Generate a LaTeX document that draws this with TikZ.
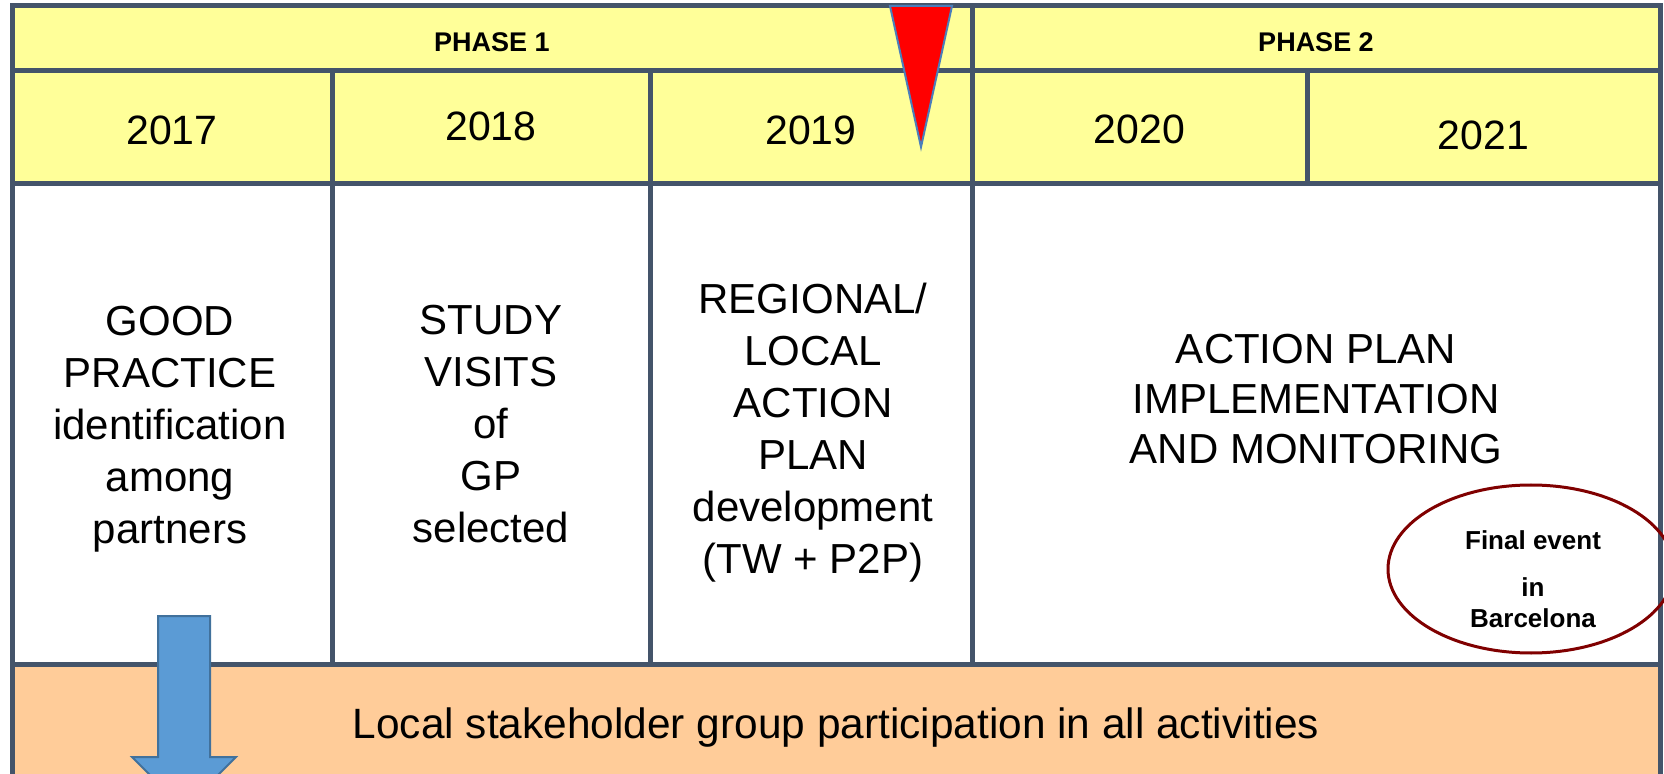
\documentclass[tikz,border=0pt]{standalone}
\usepackage{fontspec}
\setmainfont{Liberation Sans}
\usepackage{tikz}
\usetikzlibrary{shapes}
\usetikzlibrary{shapes.geometric}
\usetikzlibrary{positioning}

\definecolor{hdryellow}{HTML}{FFFF99}
\definecolor{framegray}{HTML}{44546A}
\definecolor{bandorange}{HTML}{FFCC99}
\definecolor{arrowblue}{HTML}{5B9BD5}
\definecolor{arrowedge}{HTML}{41719C}
\definecolor{markred}{HTML}{FF0000}
\definecolor{markedge}{HTML}{4A7EBB}
\definecolor{eventred}{HTML}{800000}

\tikzset{
  frame/.style={draw=framegray, line width=2.5pt},
  phasetxt/.style={font=\fontsize{13.5}{16}\selectfont\bfseries},
  yeartxt/.style={font=\fontsize{20.5}{24}\selectfont},
  bodytxt/.style={align=center, font=\fontsize{21}{26}\selectfont},
}

\begin{document}
\begin{tikzpicture}[x=0.5pt, y=-0.5pt, >=latex]
      \path[use as bounding box] (0, 0) rectangle (1664, 774);
      \clip (0, 0) rectangle (1664, 774);

      % phase headers
      \draw[frame, fill=hdryellow] (12, 6) rectangle (972, 71);
      \draw[frame, fill=hdryellow] (972, 6) rectangle (1660, 71);
      \node[phasetxt] (ph1) at (492, 42) {PHASE 1};
      \node[phasetxt] (ph2) at (1316, 42) {PHASE 2};

      % years
      \foreach \xa/\xb/\yr/\ty in {12/332/2017/130, 332/650/2018/126, 650/972/2019/130, 972/1307/2020/129, 1307/1660/2021/135} {
        \draw[frame, fill=hdryellow] (\xa, 71) rectangle (\xb, 184);
        \node[yeartxt] (yr\yr) at ({(\xa+\xb)/2}, \ty) {\yr};
      }

      % activities
      \foreach \xa/\xb in {12/332, 332/650, 650/972, 972/1660} {
        \draw[frame, fill=white] (\xa, 184) rectangle (\xb, 664);
      }
      \node[bodytxt] (gp) at (170, 429) {GOOD\\PRACTICE\\identification\\among\\partners};
      \node[bodytxt] (visits) at (491, 424) {STUDY\\VISITS\\of\\GP\\selected};
      \node[bodytxt] (lap) at (813, 433) {REGIONAL/\\LOCAL\\ACTION\\PLAN\\development\\(TW + P2P)};
      \node[bodytxt, font=\fontsize{21}{25}\selectfont] (impl) at (1316, 399) {ACTION PLAN\\IMPLEMENTATION\\AND MONITORING};

      % stakeholder band
      \draw[frame, fill=bandorange] (12, 664) rectangle (1660, 790);
      \node[bodytxt, font=\fontsize{21.2}{26}\selectfont] (lsg) at (836, 728) {Local stakeholder group participation in all activities};

      % arrow down
      \draw[fill=arrowblue, draw=arrowedge, line width=1pt]
        (158, 616) -- (210, 616) -- (210, 757) -- (236, 757) -- (184, 809)
        -- (132, 757) -- (158, 757) -- cycle;

      % milestone marker
      \draw[fill=markred, draw=markedge, line width=1pt] (890, 6) -- (952, 6) -- (921, 147) -- cycle;

      % final event
      \node[ellipse, draw=eventred, line width=1.5pt, minimum width=143pt, minimum height=84pt, inner sep=0pt] (fin) at (1531, 569) {};
      \node[align=center, font=\fontsize{13}{15.5}\selectfont\bfseries] (fintxt) at (1533, 579) {Final event\\[8pt]in\\Barcelona};
\end{tikzpicture}
\end{document}
